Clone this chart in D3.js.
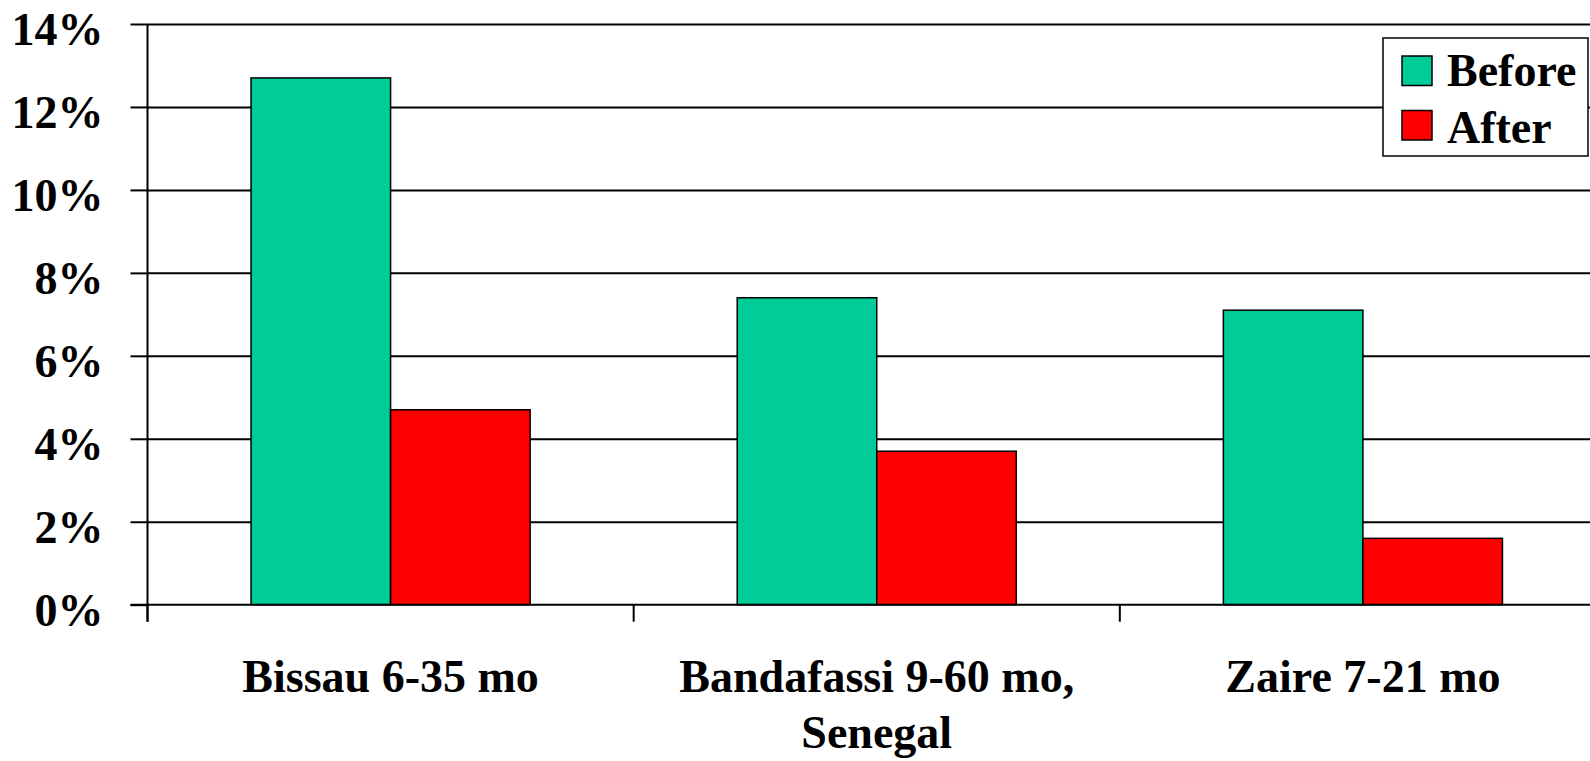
<!DOCTYPE html>
<html>
<head>
<meta charset="utf-8">
<script src="https://cdn.jsdelivr.net/npm/d3@7"></script>
<style>
  html, body { margin: 0; padding: 0; background: #fff; overflow: hidden; }
  svg { display: block; }
  text { font-family: "Liberation Serif", "Times New Roman", serif; font-weight: bold; fill: #000; }
</style>
</head>
<body>
<svg id="chart" width="1590" height="761"></svg>
<script>
const categories = ["Bissau 6-35 mo", "Bandafassi 9-60 mo, Senegal", "Zaire 7-21 mo"];
const seriesNames = ["Before", "After"];
const beforeValues = [12.7, 7.4, 7.1];
const afterValues = [4.7, 3.7, 1.6];
const yTicks = [0, 2, 4, 6, 8, 10, 12, 14];
const colors = ["#00CC99", "#FF0000"];

const svg = d3.select("#chart");
const plotLeft = 147.5, plotRight = 1606, plotTop = 24, plotBottom = 604.7;
const fontSize = 46;

const x0 = d3.scaleBand().domain(categories).range([plotLeft, plotRight]).padding(0);
const x1 = d3.scaleBand().domain(seriesNames).range([0, x0.bandwidth()]).paddingInner(0).paddingOuter(0.742);
const y = d3.scaleLinear().domain([0, 14]).range([plotBottom, plotTop]);

const seriesValues = { "Before": beforeValues, "After": afterValues };
const table = categories.map((c, i) => ({ cat: c, values: seriesNames.map(s => ({ s, v: seriesValues[s][i] })) }));

// gridlines
const grid = svg.append("g").attr("transform", `translate(${plotLeft},0)`)
  .call(d3.axisLeft(y).tickValues(yTicks.filter(d => d > 0)).tickSize(-(1590 - plotLeft)).tickFormat(""));
grid.select(".domain").remove();
grid.selectAll("line").attr("stroke", "#000").attr("stroke-width", 2);

// bars
const groups = svg.append("g").selectAll("g").data(table).join("g")
  .attr("transform", d => `translate(${x0(d.cat)},0)`);
groups.selectAll("rect").data(d => d.values).join("rect")
  .attr("x", d => x1(d.s))
  .attr("width", x1.bandwidth())
  .attr("y", d => y(d.v))
  .attr("height", d => y(0) - y(d.v))
  .attr("fill", (d, i) => colors[i])
  .attr("stroke", "#000")
  .attr("stroke-width", 1.5);

// y axis
const yAxis = svg.append("g").attr("transform", `translate(${plotLeft},0)`)
  .call(d3.axisLeft(y).tickValues(yTicks).tickSize(17).tickPadding(27).tickFormat(d => d + "%"));
yAxis.select(".domain").remove();
yAxis.selectAll("line").attr("stroke", "#000").attr("stroke-width", 2);
yAxis.selectAll("text").attr("font-size", fontSize).attr("dy", "0.45em")
  .style("font-family", '"Liberation Serif", "Times New Roman", serif').style("font-weight", "bold");
svg.append("line").attr("x1", plotLeft).attr("x2", plotLeft).attr("y1", y(14)).attr("y2", y(0) + 17)
  .attr("stroke", "#000").attr("stroke-width", 2);

// x axis line
svg.append("line").attr("x1", plotLeft - 17).attr("x2", 1590).attr("y1", y(0)).attr("y2", y(0))
  .attr("stroke", "#000").attr("stroke-width", 2);

// category boundary ticks
const bounds = categories.map(c => x0(c)).concat([x0(categories[categories.length - 1]) + x0.bandwidth()]);
svg.append("g").selectAll("line").data(bounds).join("line")
  .attr("x1", d => d).attr("x2", d => d).attr("y1", y(0)).attr("y2", y(0) + 17)
  .attr("stroke", "#000").attr("stroke-width", 2);

// category labels
const xLabels = svg.append("g").selectAll("text").data(categories).join("text")
  .attr("text-anchor", "middle")
  .attr("font-size", fontSize)
  .attr("x", d => x0(d) + x0.bandwidth() / 2)
  .attr("y", y(0) + 87);
xLabels.each(function(d) {
  const parts = d.split(/(?<=,) /);
  const t = d3.select(this);
  parts.forEach((p, i) => {
    t.append("tspan").attr("x", x0(d) + x0.bandwidth() / 2).attr("dy", i === 0 ? 0 : 56).text(p);
  });
});

// legend
const legend = svg.append("g");
legend.append("rect").attr("x", 1383).attr("y", 38).attr("width", 205).attr("height", 118)
  .attr("fill", "#fff").attr("stroke", "#000").attr("stroke-width", 1.5);
seriesNames.forEach((s, i) => {
  legend.append("rect").attr("x", 1402).attr("y", 56 + i * 54.5).attr("width", 30).attr("height", 29.5)
    .attr("fill", colors[i]).attr("stroke", "#000").attr("stroke-width", 1.5);
  legend.append("text").attr("x", 1447).attr("y", 86 + i * 56.7).attr("font-size", fontSize).text(s);
});
</script>
</body>
</html>
